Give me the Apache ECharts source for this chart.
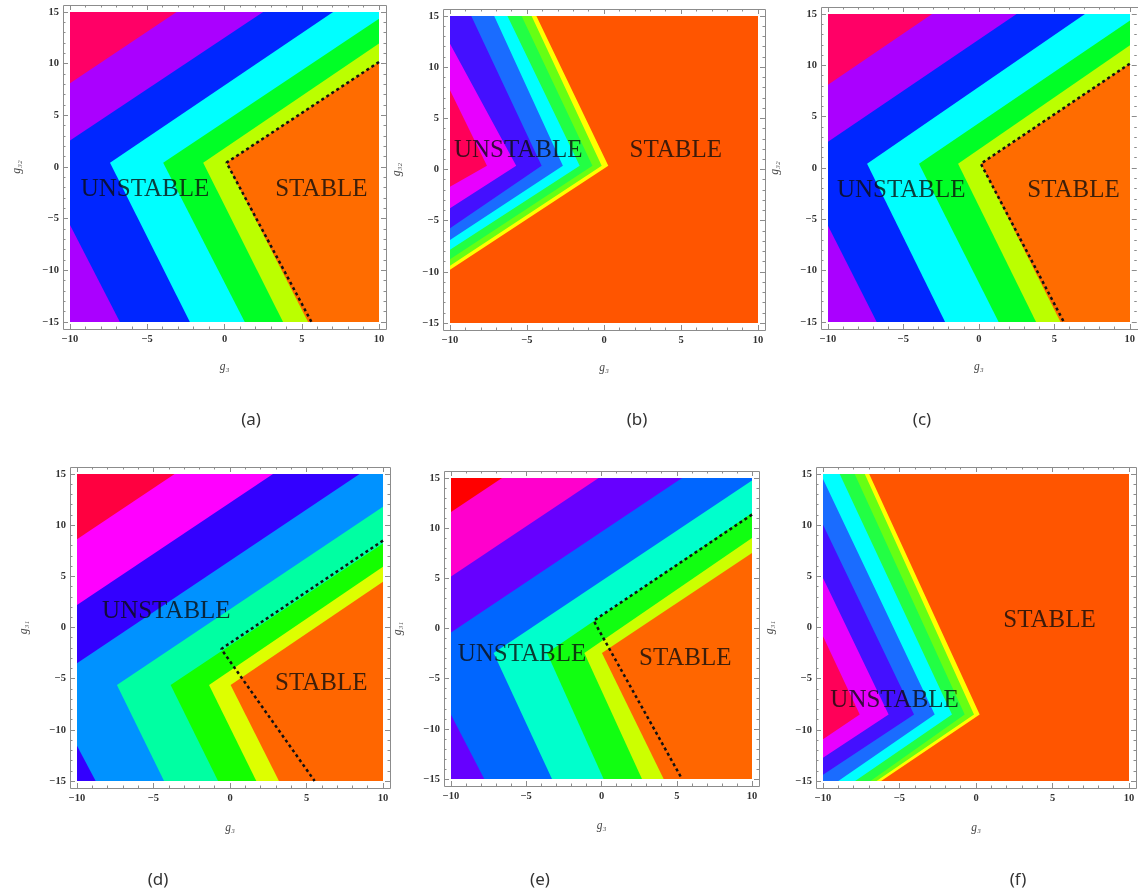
<!DOCTYPE html>
<html>
<head>
<meta charset="utf-8">
<script src="https://cdn.jsdelivr.net/npm/echarts@6/dist/echarts.min.js"></script>
<style>html,body{margin:0;padding:0;background:#fff;}#chart{width:1138px;height:894px;}</style>
</head>
<body>
<div id="chart"></div>
<script>
// ---------------- DATA ----------------
const X_RANGE = [-10, 10];
const Y_RANGE = [-15, 15];
const TICK_STEP = 5;
const panelLabels = ['(a)', '(b)', '(c)', '(d)', '(e)', '(f)'];
const xNames = ['g\u2083', 'g\u2083', 'g\u2083', 'g\u2083', 'g\u2083', 'g\u2083'];
const yNames = ['g\u2083\u2082', 'g\u2083\u2082', 'g\u2083\u2082', 'g\u2083\u2081', 'g\u2083\u2081', 'g\u2083\u2081'];

// Each boundary: [arm end (upper), vertex, arm end (lower)] in data units
const boundsA = [
  [[-3.10, 15], [-17.7, 0.42], [-12.4, -15]],
  [[2.50, 15], [-12.1, 0.48], [-6.77, -15]],
  [[7.03, 15], [-7.41, 0.42], [-2.24, -15]],
  [[10, 14.35], [-3.97, 0.42], [1.31, -15]],
  [[10, 11.94], [-1.38, 0.42], [3.79, -15]],
  [[10, 10.16], [0.13, 0.42], [5.41, -15]]
];
const colorsA = ['#ff0066', '#aa00ff', '#0026ff', '#00ffff', '#00ff26', '#bbff00', '#ff6c00'];
const dottedA = [[10, 10.16], [0.13, 0.42], [5.63, -15]];

const boundsB = [
  [[-10, 7.75], [-7.60, 0.37], [-10, -1.68]],
  [[-10, 12.3], [-5.70, 0.37], [-10, -3.79]],
  [[-8.62, 15], [-4.05, 0.37], [-10, -5.74]],
  [[-7.13, 15], [-2.67, 0.37], [-10, -6.88]],
  [[-6.27, 15], [-1.58, 0.37], [-10, -7.85]],
  [[-5.35, 15], [-0.75, 0.37], [-10, -8.76]],
  [[-4.70, 15], [-0.15, 0.37], [-10, -9.41]],
  [[-4.39, 15], [0.28, 0.37], [-10, -9.80]]
];
const colorsB = ['#ff0058', '#e800ff', '#4410ff', '#1a6cff', '#00ffff', '#22ff44', '#66ff14', '#ffff00', '#ff5500'];

const boundsC = boundsA;
const colorsC = colorsA;
const dottedC = dottedA;

const boundsD = [
  [[-3.62, 15], [-24.2, -5.6], [-21.0, -15]],
  [[2.81, 15], [-17.8, -5.6], [-14.6, -15]],
  [[8.47, 15], [-12.1, -5.6], [-8.78, -15]],
  [[10, 11.8], [-7.39, -5.62], [-4.31, -15]],
  [[10, 8.22], [-3.88, -5.62], [-0.78, -15]],
  [[10, 5.94], [-1.37, -5.62], [1.72, -15]],
  [[10, 4.48], [0.04, -5.62], [3.20, -15]]
];
const colorsD = ['#ff0040', '#ff00ff', '#3300ff', '#0092ff', '#00ffa2', '#14ff00', '#ddff00', '#ff6600'];
const dottedD = [[10, 8.49], [-0.57, -2.1], [5.53, -15]];

const boundsE = [
  [[-6.61, 15], [-24.1, -2.44], [-19.9, -15]],
  [[-0.19, 15], [-17.6, -2.44], [-13.4, -15]],
  [[5.35, 15], [-12.1, -2.5], [-7.79, -15]],
  [[10, 14.75], [-7.17, -2.44], [-3.29, -15]],
  [[10, 11.5], [-3.62, -2.44], [0.14, -15]],
  [[10, 9.02], [-1.14, -2.44], [2.69, -15]],
  [[10, 7.52], [0.03, -2.44], [4.13, -15]]
];
const colorsE = ['#ff0000', '#ff00cc', '#6600ff', '#0066ff', '#00ffcc', '#11ff11', '#ccff00', '#ff6600'];
const dottedE = [[10, 11.35], [-0.52, 0.78], [5.35, -15]];

const boundsF = [
  [[-10, -0.86], [-7.60, -8.5], [-10, -10.93]],
  [[-10, 4.83], [-5.71, -8.5], [-10, -12.72]],
  [[-10, 10.03], [-4.05, -8.5], [-10, -14.4]],
  [[-10, 14.5], [-2.70, -8.5], [-9.0, -15]],
  [[-8.91, 15], [-1.57, -8.5], [-7.9, -15]],
  [[-7.93, 15], [-0.74, -8.5], [-6.9, -15]],
  [[-7.27, 15], [-0.13, -8.5], [-6.5, -15]],
  [[-6.98, 15], [0.24, -8.5], [-6.2, -15]]
];
const colorsF = colorsB;

const unstableTextPos = [[-5.15, -2.16], [-5.57, 1.9], [-5.15, -2.16], [-4.16, 1.55], [-5.28, -2.61], [-5.32, -7.1]];
const stableTextPos = [[6.27, -2.16], [4.66, 1.9], [6.27, -2.16], [5.97, -5.46], [5.57, -2.94], [4.81, 0.71]];

// ---------------- LAYOUT ----------------
const GRID = [
  {left: 70, top: 12, width: 309, height: 310},
  {left: 450, top: 16, width: 308, height: 307},
  {left: 828, top: 14, width: 308, height: 308},
  {left: 77, top: 474, width: 306, height: 307},
  {left: 451, top: 478, width: 301, height: 301},
  {left: 823, top: 474, width: 306, height: 307}
];
const LABEL_POS = [[251, 420], [637, 420], [922, 420], [158, 880], [540, 880], [1018, 880]];
const PAD = 7;

const panels = [
  {bounds: boundsA, colors: colorsA, dotted: dottedA},
  {bounds: boundsB, colors: colorsB, dotted: null},
  {bounds: boundsC, colors: colorsC, dotted: dottedC},
  {bounds: boundsD, colors: colorsD, dotted: dottedD},
  {bounds: boundsE, colors: colorsE, dotted: dottedE},
  {bounds: boundsF, colors: colorsF, dotted: null}
];

const fmt = v => (v < 0 ? '\u2212' + (-v) : String(v));
const tickColor = '#8c8c8c';
const labelStyle = {fontFamily: 'Liberation Serif', fontWeight: 'bold', fontSize: 10.5, color: '#333'};
const nameStyle = {fontFamily: 'Liberation Serif', fontStyle: 'italic', fontSize: 11.5, color: '#444'};

function axisBase(extra) {
  return Object.assign({
    type: 'value', offset: PAD,
    axisLine: {show: false, onZero: false},
    axisTick: {show: true, inside: true, length: 5, lineStyle: {color: tickColor}},
    minorTick: {show: true, splitNumber: 5, length: 2.5, lineStyle: {color: tickColor}},
    splitLine: {show: false}
  }, extra);
}

const grids = [], xAxes = [], yAxes = [], series = [], graphics = [];
GRID.forEach((g, i) => {
  grids.push(Object.assign({containLabel: false}, g));
  xAxes.push(axisBase({gridIndex: i, position: 'bottom', min: X_RANGE[0], max: X_RANGE[1], interval: TICK_STEP,
    axisLabel: Object.assign({formatter: fmt, margin: 5}, labelStyle),
    name: xNames[i], nameLocation: 'middle', nameGap: i < 3 ? 32 : 34, nameTextStyle: nameStyle}));
  xAxes.push(axisBase({gridIndex: i, position: 'top', min: X_RANGE[0], max: X_RANGE[1], interval: TICK_STEP,
    axisLabel: {show: false}}));
  yAxes.push(axisBase({gridIndex: i, position: 'left', min: Y_RANGE[0], max: Y_RANGE[1], interval: TICK_STEP,
    axisLabel: Object.assign({formatter: fmt, margin: 4}, labelStyle),
    name: yNames[i], nameLocation: 'middle', nameGap: 40, nameTextStyle: nameStyle}));
  yAxes.push(axisBase({gridIndex: i, position: 'right', min: Y_RANGE[0], max: Y_RANGE[1], interval: TICK_STEP,
    axisLabel: {show: false}}));

  const p = panels[i];
  series.push({
    type: 'custom', xAxisIndex: 2 * i, yAxisIndex: 2 * i, clip: true, silent: true, z: 1,
    data: p.colors.map((c, k) => [0, 0, k]),
    renderItem: function (params, api) {
      const k = params.dataIndex;
      let pts;
      if (k === 0) {
        pts = [[X_RANGE[0], Y_RANGE[1]], [X_RANGE[1], Y_RANGE[1]], [X_RANGE[1], Y_RANGE[0]], [X_RANGE[0], Y_RANGE[0]]];
      } else {
        const b = p.bounds[k - 1];
        const v = b[1];
        const far = q => [v[0] + (q[0] - v[0]) * 30, v[1] + (q[1] - v[1]) * 30];
        const tf = far(b[0]), bf = far(b[2]);
        pts = [tf, v, bf, [1000, bf[1]], [1000, tf[1]]];
      }
      return {type: 'polygon', shape: {points: pts.map(q => api.coord(q))}, style: {fill: p.colors[k]}};
    }
  });
  if (p.dotted) {
    series.push({
      type: 'line', xAxisIndex: 2 * i, yAxisIndex: 2 * i, data: p.dotted, symbol: 'none', clip: true, z: 3,
      silent: true, lineStyle: {color: '#111', width: 2.5, type: [3, 3]}
    });
  }
  series.push({
    type: 'scatter', xAxisIndex: 2 * i, yAxisIndex: 2 * i, symbolSize: 1, z: 4, silent: true,
    itemStyle: {color: 'rgba(0,0,0,0)'},
    data: [{name: 'UNSTABLE', value: unstableTextPos[i]}, {name: 'STABLE', value: stableTextPos[i]}],
    label: {show: true, position: 'inside', formatter: q => q.name, fontFamily: 'Liberation Serif',
      fontSize: 25, color: '#0d0d0d'}
  });
  graphics.push({
    type: 'rect', silent: true, z: 10,
    shape: {x: g.left - PAD + 0.5, y: g.top - PAD + 0.5, width: g.width + 2 * PAD, height: g.height + 2 * PAD},
    style: {fill: 'none', stroke: '#8c8c8c', lineWidth: 1}
  });
  graphics.push({
    type: 'text', silent: true, x: LABEL_POS[i][0], y: LABEL_POS[i][1],
    style: {text: panelLabels[i], fontFamily: 'Noto Sans', fontSize: 17, fill: '#333',
      textAlign: 'center', textVerticalAlign: 'middle'}
  });
});

const chart = echarts.init(document.getElementById('chart'), null, {renderer: 'canvas'});
chart.setOption({
  animation: false,
  backgroundColor: '#ffffff',
  grid: grids, xAxis: xAxes, yAxis: yAxes, series: series, graphic: graphics
});
</script>
</body>
</html>
